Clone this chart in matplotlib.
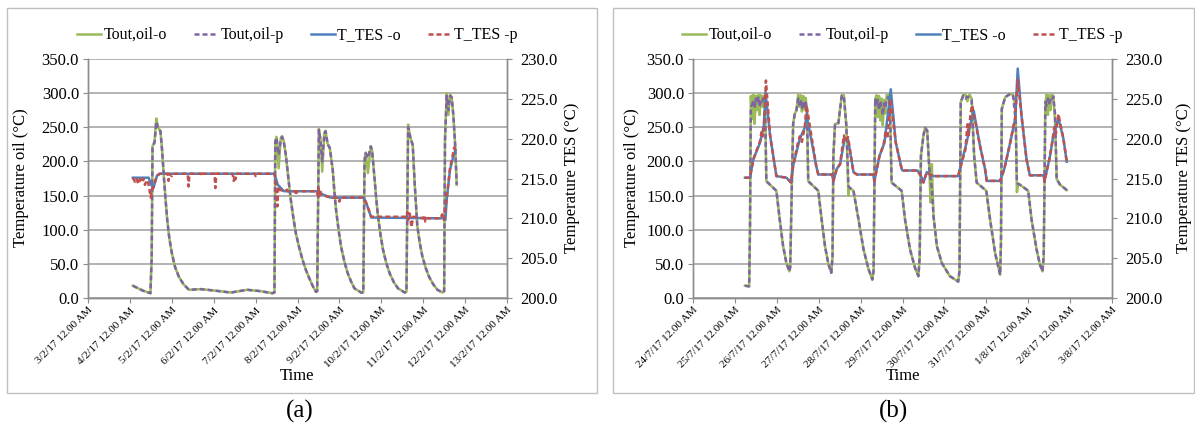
import matplotlib
matplotlib.use("Agg")
import matplotlib.pyplot as plt
from matplotlib.lines import Line2D
from matplotlib.patches import Rectangle

# ---------------- data (x = days since first tick) ----------------
xticklabels_a = ["3/2/17 12.00 AM", "4/2/17 12.00 AM", "5/2/17 12.00 AM", "6/2/17 12.00 AM",
                 "7/2/17 12.00 AM", "8/2/17 12.00 AM", "9/2/17 12.00 AM", "10/2/17 12.00 AM",
                 "11/2/17 12.00 AM", "12/2/17 12.00 AM", "13/2/17 12.00 AM"]
xticklabels_b = ["24/7/17 12.00 AM", "25/7/17 12.00 AM", "26/7/17 12.00 AM", "27/7/17 12.00 AM",
                 "28/7/17 12.00 AM", "29/7/17 12.00 AM", "30/7/17 12.00 AM", "31/7/17 12.00 AM",
                 "1/8/17 12.00 AM", "2/8/17 12.00 AM", "3/8/17 12.00 AM"]

# panel (a) oil temperature
oil_t_a = [1.07, 1.3, 1.49, 1.52, 1.54, 1.59, 1.63, 1.67, 1.73, 1.77, 1.81, 1.85, 1.89, 1.94,
           2.0, 2.08, 2.17, 2.28, 2.41, 2.69, 3.0, 3.41, 3.8, 4.12, 4.4, 4.45, 4.47, 4.5, 4.55,
           4.6, 4.63, 4.67, 4.72, 4.76, 4.8, 4.84, 4.9, 4.96, 5.04, 5.12, 5.2, 5.28, 5.36, 5.44,
           5.47, 5.51, 5.55, 5.59, 5.64, 5.67, 5.72, 5.77, 5.84, 5.88, 5.92, 5.98, 6.04, 6.12,
           6.2, 6.28, 6.36, 6.52, 6.57, 6.6, 6.63, 6.68, 6.75, 6.78, 6.84, 6.88, 6.92, 6.98,
           7.04, 7.12, 7.2, 7.3, 7.4, 7.56, 7.6, 7.64, 7.69, 7.75, 7.8, 7.86, 7.92, 7.98, 8.06,
           8.14, 8.24, 8.34, 8.46, 8.5, 8.52, 8.56, 8.6, 8.64, 8.68, 8.72, 8.76, 8.8]
oil_p_a = [18, 11, 7, 60, 220, 228, 258, 250, 244, 215, 178, 145, 115, 88,
           66, 45, 31, 20, 12, 13, 11, 8, 12, 10, 7, 8, 228, 235, 210,
           232, 236, 230, 210, 188, 165, 144, 118, 95, 74, 56, 41, 29, 18, 9,
           10, 246, 230, 200, 240, 244, 225, 220, 188, 156, 129, 100, 75, 53,
           36, 24, 14, 8, 8, 200, 212, 205, 222, 216, 174, 145, 120, 93,
           71, 51, 36, 23, 14, 8, 9, 250, 236, 224, 164, 105, 80, 61, 44,
           31, 20, 12, 8, 10, 230, 296, 275, 296, 294, 267, 227, 166]
oil_o_a = [18, 11, 7, 60, 222, 230, 263, 250, 244, 215, 178, 145, 115, 88,
           66, 45, 31, 20, 12, 13, 11, 8, 12, 10, 7, 8, 230, 236, 190,
           234, 237, 230, 210, 188, 165, 144, 118, 95, 74, 56, 41, 29, 18, 9,
           10, 248, 232, 185, 242, 245, 225, 220, 188, 156, 129, 100, 75, 53,
           36, 24, 14, 8, 8, 205, 213, 183, 222, 216, 174, 145, 120, 93,
           71, 51, 36, 23, 14, 8, 9, 254, 236, 224, 164, 105, 80, 61, 44,
           31, 20, 12, 8, 10, 232, 300, 268, 298, 294, 267, 227, 166]

# panel (a) TES temperature
tes_o_t_a = [1.07, 1.45, 1.5, 1.56, 1.65, 1.73, 4.45, 4.53, 4.68, 5.5, 5.6, 5.8, 6.58, 6.65,
             6.76, 8.5, 8.53, 8.56, 8.64, 8.72, 8.77]
tes_o_a = [215.1, 215.1, 214.3, 213.8, 215.4, 215.6, 215.6, 214.2, 213.4, 213.4, 213.0, 212.6,
           212.6, 211.8, 210.1, 210.0, 209.8, 212.3, 216.1, 217.8, 218.6]
tes_p_t_a = [1.07, 1.12, 1.16, 1.2, 1.24, 1.28, 1.32, 1.36, 1.4, 1.44, 1.48, 1.5, 1.53, 1.57,
             1.62, 1.7, 1.9, 1.92, 1.94, 2.0, 2.02, 2.38, 2.4, 2.42, 2.7, 2.72, 2.74, 3.02,
             3.04, 3.06, 3.45, 3.48, 3.5, 3.52, 3.55, 3.98, 4.0, 4.02, 4.45, 4.48, 4.52, 4.54,
             4.58, 4.68, 4.75, 4.77, 4.95, 4.96, 4.98, 5.45, 5.48, 5.5, 5.52, 5.54, 5.56, 5.6,
             5.8, 5.98, 6.0, 6.02, 6.58, 6.65, 6.76, 7.6, 7.62, 7.64, 7.68, 7.72, 7.76, 8.0,
             8.03, 8.05, 8.08, 8.42, 8.45, 8.5, 8.56, 8.64, 8.7, 8.74, 8.77]
tes_p_a = [215.1, 214.6, 215.0, 214.3, 214.9, 214.5, 215.0, 214.2, 214.8, 214.4, 213.2, 212.6,
           213.6, 214.0, 215.0, 215.6, 215.6, 214.7, 215.6, 215.3, 215.6, 215.6, 214.0, 215.6,
           215.6, 215.3, 215.6, 215.6, 213.8, 215.6, 215.6, 214.7, 215.4, 214.9, 215.6, 215.6,
           215.3, 215.6, 215.6, 214.5, 211.5, 214.0, 213.6, 213.4, 213.6, 213.4, 213.4, 212.9,
           213.4, 213.4, 213.0, 213.8, 212.8, 213.6, 213.0, 212.9, 212.6, 212.6, 212.1, 212.6,
           212.6, 211.8, 210.2, 210.2, 210.8, 209.8, 210.6, 208.9, 210.2, 210.0, 210.4, 209.6,
           210.0, 210.0, 210.5, 209.8, 212.5, 216.3, 217.8, 218.9, 218.5]

# panel (b) oil temperature
oil_t_b = [1.24, 1.34, 1.36, 1.38, 1.41, 1.44, 1.47, 1.5, 1.53, 1.56, 1.59, 1.62, 1.65, 1.68,
           1.72, 1.75, 1.99, 2.07, 2.15, 2.23, 2.3, 2.32, 2.36, 2.39, 2.43, 2.47, 2.51, 2.54,
           2.57, 2.6, 2.63, 2.66, 2.69, 2.72, 2.75, 2.99, 3.07, 3.15, 3.23, 3.3, 3.33, 3.35,
           3.39, 3.47, 3.55, 3.6, 3.66, 3.71, 3.73, 3.83, 3.95, 4.07, 4.19, 4.28, 4.31, 4.35,
           4.38, 4.41, 4.44, 4.47, 4.5, 4.53, 4.56, 4.59, 4.62, 4.66, 4.7, 4.74, 4.98, 5.06,
           5.18, 5.3, 5.38, 5.41, 5.44, 5.5, 5.54, 5.59, 5.64, 5.67, 5.7, 5.74, 5.82, 5.94,
           6.13, 6.33, 6.36, 6.39, 6.45, 6.5, 6.55, 6.6, 6.65, 6.71, 6.77, 7.0, 7.09, 7.21,
           7.33, 7.35, 7.37, 7.45, 7.57, 7.64, 7.7, 7.73, 7.76, 7.8, 8.0, 8.08, 8.2, 8.28,
           8.34, 8.37, 8.41, 8.44, 8.47, 8.5, 8.53, 8.56, 8.6, 8.64, 8.68, 8.76, 8.84, 8.92]
oil_p_b = [18, 17, 100, 280, 283, 290, 278, 292, 285, 295, 280, 290, 288, 293,
           285, 171, 157, 115, 76, 51, 39, 45, 169, 255, 270, 275, 292, 283,
           290, 278, 288, 280, 286, 275, 171, 157, 115, 76, 50, 37, 60, 208,
           255, 256, 296, 296, 252, 164, 162, 157, 115, 71, 42, 27, 40, 292,
           282, 290, 275, 288, 280, 268, 285, 278, 290, 294, 280, 169, 157, 115,
           71, 44, 32, 60, 208, 238, 249, 245, 189, 175, 160, 120, 76, 51,
           32, 24, 40, 287, 296, 292, 295, 293, 290, 208, 169, 157, 115, 66,
           34, 80, 277, 294, 299, 296, 260, 169, 167, 166, 157, 115, 71, 49,
           39, 60, 287, 282, 292, 285, 290, 288, 295, 270, 174, 166, 162, 158]
oil_o_b = [18, 17, 100, 296, 262, 298, 255, 296, 275, 298, 268, 297, 280, 296,
           290, 171, 157, 115, 76, 51, 39, 45, 169, 255, 270, 275, 298, 280,
           297, 273, 296, 276, 293, 272, 171, 157, 115, 76, 50, 37, 60, 208,
           255, 256, 297, 297, 252, 150, 162, 157, 115, 71, 42, 27, 40, 292,
           297, 265, 296, 260, 292, 253, 290, 270, 297, 298, 285, 169, 157, 115,
           71, 44, 32, 60, 208, 238, 250, 245, 189, 140, 196, 120, 76, 51,
           32, 24, 40, 287, 298, 298, 288, 298, 292, 208, 169, 157, 115, 66,
           34, 80, 277, 294, 299, 297, 280, 155, 167, 166, 157, 115, 71, 49,
           39, 60, 287, 298, 268, 297, 275, 298, 296, 260, 174, 166, 162, 158]

# panel (b) TES temperature
tes_o_t_b = [1.24, 1.36, 1.44, 1.6, 1.69, 1.73, 1.84, 1.99, 2.23, 2.34, 2.39, 2.55, 2.67, 2.71,
             2.94, 2.99, 3.32, 3.35, 3.43, 3.51, 3.62, 3.7, 3.83, 3.91, 4.3, 4.33, 4.45, 4.57,
             4.72, 4.84, 4.98, 5.0, 5.36, 5.46, 5.5, 5.58, 5.66, 5.74, 6.33, 6.37, 6.53, 6.65,
             6.7, 6.85, 6.97, 7.01, 7.33, 7.43, 7.57, 7.69, 7.75, 7.84, 7.96, 8.04, 8.37, 8.39,
             8.52, 8.6, 8.72, 8.84, 8.92]
tes_o_b = [215.1, 215.1, 217.4, 219.5, 221.6, 225.8, 220.4, 215.3, 215.1, 214.5, 216.6, 220.0,
           221.4, 223.0, 216.6, 215.5, 215.5, 214.7, 216.2, 216.8, 220.0, 219.9, 215.8, 215.5,
           215.5, 214.7, 217.8, 219.5, 226.2, 219.5, 216.2, 216.0, 216.0, 215.1, 214.5, 215.8,
           215.5, 215.3, 215.3, 216.2, 219.5, 222.5, 223.5, 219.1, 216.2, 214.7, 214.7, 216.2,
           219.5, 222.5, 228.8, 222.9, 217.4, 215.4, 215.4, 214.7, 217.8, 220.4, 222.6, 220.0,
           217.1]
tes_p_t_b = [1.24, 1.36, 1.44, 1.6, 1.64, 1.67, 1.7, 1.74, 1.84, 1.99, 2.23, 2.34, 2.39, 2.5,
             2.55, 2.6, 2.67, 2.71, 2.94, 2.99, 3.32, 3.35, 3.43, 3.51, 3.6, 3.64, 3.7, 3.83,
             3.91, 4.3, 4.33, 4.45, 4.55, 4.6, 4.64, 4.71, 4.84, 4.98, 5.0, 5.36, 5.46, 5.5,
             5.58, 5.66, 5.74, 6.33, 6.37, 6.5, 6.55, 6.58, 6.62, 6.66, 6.85, 6.97, 7.01, 7.33,
             7.43, 7.57, 7.69, 7.75, 7.84, 7.96, 8.04, 8.37, 8.39, 8.52, 8.58, 8.62, 8.66, 8.72,
             8.84, 8.92]
tes_p_b = [215.1, 215.1, 217.4, 219.7, 221.0, 220.3, 222.2, 227.3, 220.4, 215.3, 215.1, 214.5,
           216.6, 219.4, 220.3, 219.6, 221.6, 224.2, 216.6, 215.5, 215.5, 214.7, 216.2, 216.8,
           220.4, 219.6, 220.2, 215.8, 215.5, 215.5, 214.7, 217.8, 219.3, 221.0, 220.0, 225.0,
           219.5, 216.2, 216.0, 216.0, 215.1, 214.5, 215.8, 215.5, 215.3, 215.3, 216.2, 218.6,
           221.8, 220.3, 223.0, 224.2, 219.1, 216.2, 214.7, 214.7, 216.2, 219.5, 222.7, 227.4,
           222.9, 217.4, 215.4, 215.4, 214.7, 217.8, 219.8, 221.4, 220.6, 223.1, 220.0, 217.1]

oil_ticks = [0, 50, 100, 150, 200, 250, 300, 350]
tes_ticks = [200, 205, 210, 215, 220, 225, 230]
legend_labels = ["Tout,oil-o", "Tout,oil-p", "T_TES -o", "T_TES -p"]

# ---------------- style ----------------
plt.rcParams['font.family'] = ['Liberation Serif', 'DejaVu Serif']
GREEN, PURPLE, BLUE, RED = '#9BBB59', '#8064A2', '#4F81BD', '#C0504D'
AXC = '#8c8c8c'
GRIDC = '#a6a6a6'
LW = 1.8
DASH = (0, (2.0, 1.2))

fig = plt.figure(figsize=(11.95, 4.3), dpi=100)
W, H = 1195.0, 430.0


def draw_panel(x0px, box, xlabels, ot, oo, op, tot, to, tpt, tp, tag, tagx, ylab_r_x, ylab_l_x):
    bx0, by0, bx1, by1 = box
    fig.patches.append(Rectangle((bx0 / W, 1 - by1 / H), (bx1 - bx0) / W, (by1 - by0) / H,
                                 transform=fig.transFigure, fill=False, ec='#bfbfbf', lw=1.0))
    ax = fig.add_axes([x0px / W, 1 - 298 / H, 419 / W, 239 / H])
    ax2 = ax.twinx()
    ax.set_zorder(1)
    ax2.set_zorder(2)
    ax.patch.set_visible(False)
    ax2.patch.set_visible(False)

    ax.set_xlim(0, 10)
    ax.set_ylim(0, 350)
    ax2.set_ylim(200, 230)
    ax.set_yticks(oil_ticks)
    ax.set_yticklabels([f"{v:.1f}" for v in oil_ticks])
    ax2.set_yticks(tes_ticks)
    ax2.set_yticklabels([f"{v:.1f}" for v in tes_ticks])
    ax.set_xticks(range(11))
    ax.set_xticklabels(xlabels, rotation=45, ha='right', rotation_mode='anchor', fontsize=8)

    ax.grid(axis='y', color=GRIDC, lw=1.2)
    ax.set_axisbelow(True)
    for a in (ax, ax2):
        a.spines['top'].set_visible(False)
        for s in ('left', 'right', 'bottom'):
            a.spines[s].set_color(AXC)
            a.spines[s].set_linewidth(1.0)
    ax.tick_params(axis='y', length=3.5, color=AXC, labelsize=12, pad=3)
    ax.tick_params(axis='x', length=3.5, color=AXC, pad=2)
    ax2.tick_params(axis='y', length=3.5, color=AXC, labelsize=12, pad=6)

    ax.plot(ot, oo, color=GREEN, lw=LW, solid_joinstyle='round')
    ax.plot(ot, op, color=PURPLE, lw=LW, ls=DASH)
    ax2.plot(tot, to, color=BLUE, lw=LW)
    ax2.plot(tpt, tp, color=RED, lw=LW, ls=DASH)

    handles = [Line2D([], [], color=GREEN, lw=LW), Line2D([], [], color=PURPLE, lw=LW, ls=DASH),
               Line2D([], [], color=BLUE, lw=LW), Line2D([], [], color=RED, lw=LW, ls=DASH)]
    ax2.legend(handles, legend_labels, loc='center', bbox_to_anchor=(0.5, 1.1), ncol=4,
               frameon=False, handlelength=1.5, handletextpad=0.15, columnspacing=1.7,
               fontsize=11.5, borderaxespad=0)

    cx = (x0px + 209.5) / W
    fig.text(cx, 1 - 376 / H, "Time", ha='center', va='center', fontsize=12)
    fig.text(tagx / W, 1 - 411 / H, tag, ha='center', va='center', fontsize=18)
    fig.text(ylab_l_x / W, 1 - 178 / H, "Temperature oil (°C)", rotation=90,
             ha='center', va='center', fontsize=12)
    fig.text(ylab_r_x / W, 1 - 178 / H, "Temperature TES (°C)", rotation=90,
             ha='center', va='center', fontsize=12)


draw_panel(88, (7, 8, 597, 393), xticklabels_a, oil_t_a, oil_o_a, oil_p_a,
           tes_o_t_a, tes_o_a, tes_p_t_a, tes_p_a, "(a)", 300, 572, 21)
draw_panel(693, (613, 8, 1194, 393), xticklabels_b, oil_t_b, oil_o_b, oil_p_b,
           tes_o_t_b, tes_o_b, tes_p_t_b, tes_p_b, "(b)", 893, 1184, 632)

fig.savefig("out.png", dpi=100)
